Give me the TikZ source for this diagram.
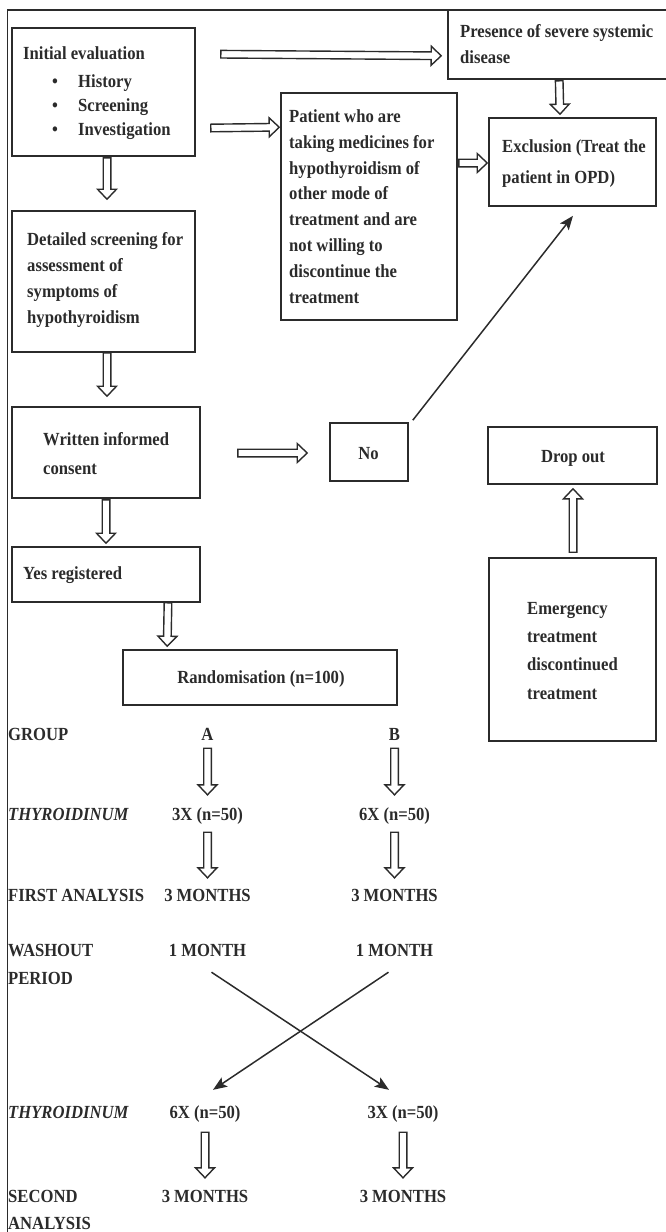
\documentclass[tikz,border=0pt]{standalone}
\usepackage{fontspec}
\setmainfont{Liberation Serif}[FakeStretch=0.9]
\usetikzlibrary{arrows.meta,calc}
\definecolor{ink}{HTML}{2B2B2B}
\begin{document}
\begin{tikzpicture}[x=1pt,y=-1pt,
  box/.style={draw=ink, line width=1.6pt, inner sep=0pt},
  txt/.style={font=\fontsize{18.5}{25}\selectfont\bfseries, text=ink, inner sep=0pt},
  lbl/.style={txt, text height=13pt, text depth=4pt, anchor=base},
  ln/.style={draw=ink, line width=1.5pt, -{Stealth[length=14pt,width=11pt,inset=3pt]}},
  frame/.style={draw=ink, line width=1.5pt},
  blk/.style={draw=ink, line width=1.4pt, line join=miter,
    to path={
      let \p1=(\tikztostart), \p2=(\tikztotarget),
          \n1={veclen(\x2-\x1,\y2-\y1)},
          \n2={(\x2-\x1)/\n1}, \n3={(\y2-\y1)/\n1}
      in
      ({\x1-\n3*3.8},{\y1+\n2*3.8})
      -- ({\x2-\n2*10-\n3*3.8},{\y2-\n3*10+\n2*3.8})
      -- ({\x2-\n2*10-\n3*9.5},{\y2-\n3*10+\n2*9.5})
      -- (\x2,\y2)
      -- ({\x2-\n2*10+\n3*9.5},{\y2-\n3*10-\n2*9.5})
      -- ({\x2-\n2*10+\n3*3.8},{\y2-\n3*10-\n2*3.8})
      -- ({\x1+\n3*3.8},{\y1-\n2*3.8})
      -- cycle}},
]
\useasboundingbox (0,0) rectangle (665,1232);
% frame
\draw[frame] (7.5,1240) -- (7.5,10) -- (672,10);

% boxes
\node[box, minimum width=183pt, minimum height=128pt] (init) at (103.5,92) {};
\node[box, minimum width=227pt, minimum height=69pt] (pres) at (561.5,44.5) {};
\node[box, minimum width=176pt, minimum height=227pt] (pat) at (369,206.5) {};
\node[box, minimum width=167pt, minimum height=88pt] (excl) at (572.5,162) {};
\node[box, minimum width=183pt, minimum height=141pt] (det) at (103.5,281.5) {};
\node[box, minimum width=188pt, minimum height=91pt] (writ) at (106,452.5) {};
\node[box, minimum width=78pt, minimum height=58pt] (no) at (369,452) {};
\node[box, minimum width=188pt, minimum height=55pt] (yes) at (106,574.5) {};
\node[box, minimum width=274pt, minimum height=55pt] (rand) at (260,677.5) {};
\node[box, minimum width=169pt, minimum height=57pt] (drop) at (572.5,455.5) {};
\node[box, minimum width=167pt, minimum height=183pt] (emerg) at (572.5,649.5) {};

% texts in boxes
\node[txt, anchor=base west] (initt) at (23,59) {Initial evaluation};
\foreach \l [count=\i from 0] in {History, Screening, Investigation}{
  \node[txt, anchor=base] (bul\i) at (55,{87+24*\i}) {\textbullet};
  \node[txt, anchor=base west] (item\i) at (78,{87+24*\i}) {\l};
}
\node[txt, anchor=base west] (prest1) at (460,37) {Presence of severe systemic};
\node[txt, anchor=base west] (prest2) at (460,63) {disease};
\foreach \l [count=\i from 0] in {Patient who are, taking medicines for, hypothyroidism of, other mode of, treatment and are, not willing to, discontinue the, treatment}
  \node[txt, anchor=base west] (patt\i) at (289,{122.5+25.8*\i}) {\l};
\node[txt, anchor=base west] (exclt1) at (502,152) {Exclusion (Treat the};
\node[txt, anchor=base west] (exclt2) at (502,183) {patient in OPD)};
\foreach \l [count=\i from 0] in {Detailed screening for, assessment of, symptoms of, hypothyroidism}
  \node[txt, anchor=base west] (dett\i) at (27,{245.7+25.8*\i}) {\l};
\node[txt, anchor=base west] (writt1) at (43,445) {Written informed};
\node[txt, anchor=base west] (writt2) at (43,474) {consent};
\node[txt, anchor=base] (not) at (368.5,459) {No};
\node[txt, anchor=base west] (yest) at (23,579) {Yes registered};
\node[txt, anchor=base] (randt) at (261,683) {Randomisation (n=100)};
\node[txt, anchor=base] (dropt) at (573,462) {Drop out};
\foreach \l [count=\i from 0] in {Emergency, treatment, discontinued, treatment}
  \node[txt, anchor=base west] (emt\i) at (527,{614+28.4*\i}) {\l};

% lower table
\node[txt, anchor=base west] (lgroup) at (8,740) {GROUP};
\node[txt, anchor=base west] (lthy1) at (8,820) {\itshape THYROIDINUM};
\node[txt, anchor=base west] (lfirst) at (8,901) {FIRST ANALYSIS};
\node[txt, anchor=base west] (lwash) at (8,956) {WASHOUT};
\node[txt, anchor=base west] (lper) at (8,984.3) {PERIOD};
\node[txt, anchor=base west] (lthy2) at (8,1118) {\itshape THYROIDINUM};
\node[txt, anchor=base west] (lsec) at (8,1202) {SECOND};
\node[txt, anchor=base west] (lana) at (8,1229) {ANALYSIS};

\node[lbl] (grpA) at (207.5,740) {A};
\node[lbl] (grpB) at (394.5,740) {B};
\node[lbl] (thA) at (207.5,820) {3X (n=50)};
\node[lbl] (thB) at (394.5,820) {6X (n=50)};
\node[lbl] (faA) at (207.5,901) {3 MONTHS};
\node[lbl] (faB) at (394.5,901) {3 MONTHS};
\node[lbl] (washA) at (207.5,956) {1 MONTH};
\node[lbl] (washB) at (394.5,956) {1 MONTH};
\node[lbl] (th2A) at (205,1118) {6X (n=50)};
\node[lbl] (th2B) at (403,1118) {3X (n=50)};
\node[lbl] (saA) at (205,1202) {3 MONTHS};
\node[lbl] (saB) at (403,1202) {3 MONTHS};

% hollow block arrows
\draw[blk] ($(init.north east)+(25,27)$) to ($(pres.south west)+(-6,-24)$);
\draw[blk] ($(init.east)+(15,36)$) to ($(pat.north west)+(-1,35)$);
\draw[blk] ($(pres.south west)+(112,1)$) to ($(excl.north)+(-12.5,-3)$);
\draw[blk] ($(pat.east)+(1,-43.5)$) to ($(excl.west)+(-1,1)$);
\draw[blk] ($(init.south)+(3.5,1)$) to ($(det.north)+(3.5,-11)$);
\draw[blk] ($(det.south)+(3.5,0)$) to ($(writ.north)+(1,-10)$);
\draw[blk] ($(writ.east)+(37,0.5)$) to ($(no.west)+(-22,1)$);
\draw[blk] ($(writ.south)+(0,1)$) to ($(yes.north)+(0,-3)$);
\draw[blk] ($(yes.south)+(62,0)$) to ($(rand.north west)+(45,-3)$);
\draw[blk] ($(emerg.north)+(0.5,-5)$) to ($(drop.south)+(0.5,4)$);
\draw[blk] ($(grpA.south)+(0,4)$) to ($(thA.north)+(0,-12)$);
\draw[blk] ($(grpB.south)+(0,4)$) to ($(thB.north)+(0,-12)$);
\draw[blk] ($(thA.south)+(0,8)$) to ($(faA.north)+(0,-10)$);
\draw[blk] ($(thB.south)+(0,8)$) to ($(faB.north)+(0,-10)$);
\draw[blk] ($(th2A.south)+(0,10)$) to ($(saA.north)+(0,-11)$);
\draw[blk] ($(th2B.south)+(0,10)$) to ($(saB.north)+(0,-11)$);

% thin arrows
\draw[ln] ($(no.north east)+(4,-2)$) -- ($(excl.south)+(0.5,9)$);
\draw[ln] ($(washA.south)+(4,12)$) -- ($(th2B.north)+(-14,-15)$);
\draw[ln] ($(washB.south)+(-6,12)$) -- ($(th2A.north)+(8,-15)$);
\end{tikzpicture}
\end{document}
